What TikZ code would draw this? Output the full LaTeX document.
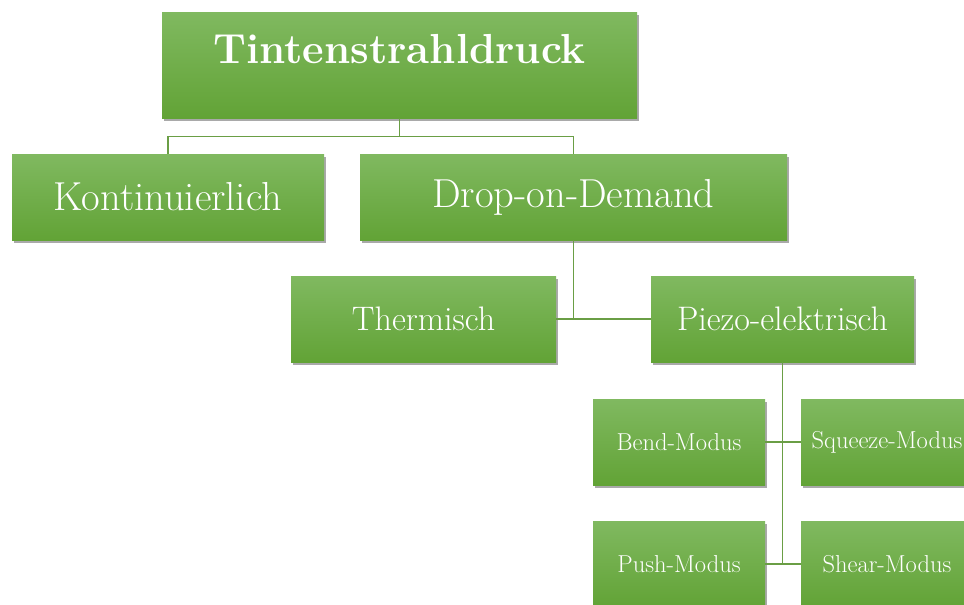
\documentclass[tikz,border=0pt]{standalone}
\usetikzlibrary{shadows}
\definecolor{boxtop}{HTML}{80B960}
\definecolor{boxbot}{HTML}{62A336}
\definecolor{boxline}{HTML}{6A9E45}
\begin{document}
\begin{tikzpicture}[
  x=1pt, y=-1pt,
  box/.style={rectangle, top color=boxtop, bottom color=boxbot, draw=none,
    text=white, align=center, inner sep=0pt,
    drop shadow={shadow xshift=1.5pt, shadow yshift=-3pt, opacity=.45, fill=black!75}},
  bigbox/.style={box, minimum height=86pt, font=\fontsize{40.5}{44}\selectfont},
  midbox/.style={box, minimum height=86pt, font=\fontsize{34}{38}\selectfont},
  smallbox/.style={box, minimum width=172pt, minimum height=86pt, font=\fontsize{24.5}{28}\selectfont},
  link/.style={draw=boxline, line width=1.3pt}
  ]
\clip (0,0) rectangle (964,605);

% top level
\node[box, minimum width=475pt, minimum height=106pt, font=\bfseries\fontsize{42}{46}\selectfont,
  text depth=32pt] (tinte) at (399.5,65) {Tintenstrahldruck};

% second level
\node[bigbox, minimum width=312pt] (kont) at (168,197) {Kontinuierlich};
\node[bigbox, minimum width=427pt] (dod) at (573.5,197) {Drop-on-Demand};

% third level
\node[midbox, minimum width=265pt] (therm) at (423.5,319) {Thermisch};
\node[midbox, minimum width=263pt] (piezo) at (782.5,319) {Piezo-elektrisch};

% piezo modes
\node[smallbox] (bend) at (679,442) {Bend-Modus};
\node[smallbox] (squeeze) at (887,442) {Squeeze-Modus};
\node[smallbox] (push) at (679,564) {Push-Modus};
\node[smallbox] (shear) at (887,564) {Shear-Modus};

% connectors
\draw[link] (tinte.south) -- ++(0,18) coordinate (split) -| (kont.north);
\draw[link] (split) -| (dod.north);
\draw[link] (dod.south) -- (dod.south |- therm.east);
\draw[link] (therm.east) -- (piezo.west);
\draw[link] (piezo.south) -- (piezo.south |- push.east);
\draw[link] (bend.east) -- (squeeze.west);
\draw[link] (push.east) -- (shear.west);
\end{tikzpicture}
\end{document}
